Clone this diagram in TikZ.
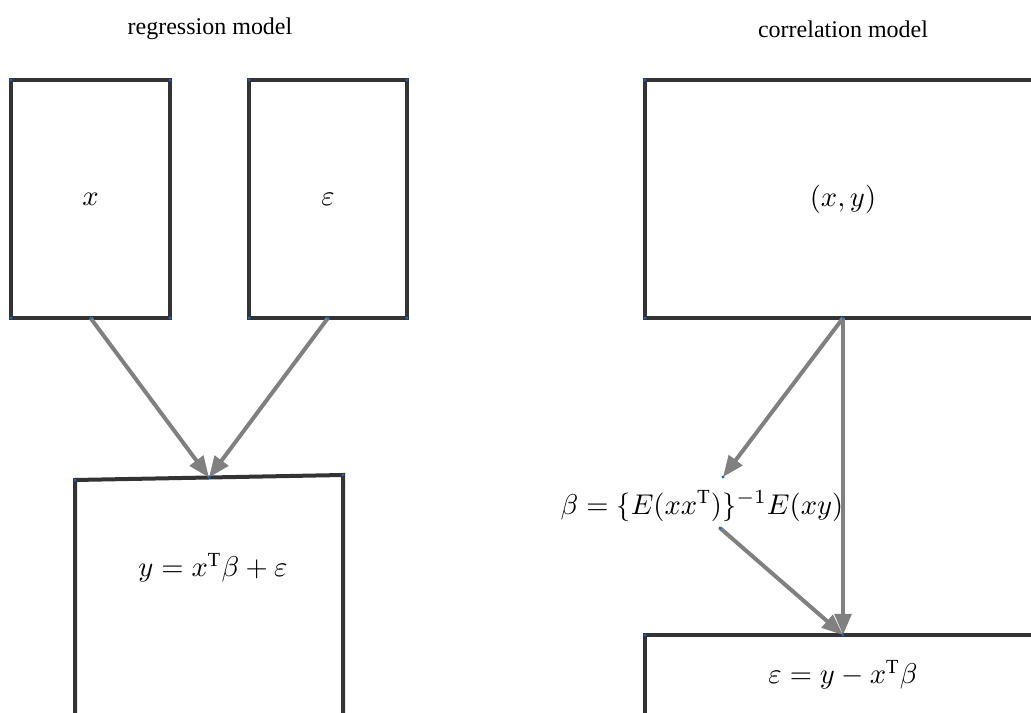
\documentclass[tikz,border=0pt]{standalone}
\usepackage{fontspec}
\setmainfont{Liberation Serif}
\usetikzlibrary{arrows.meta, positioning, calc}

\definecolor{boxgray}{HTML}{333333}
\definecolor{arrowgray}{HTML}{808080}
\definecolor{dotblue}{HTML}{1565C0}

\begin{document}
\begin{tikzpicture}[
    x=0.35pt, y=-0.35pt,
    box/.style={rectangle, draw=boxgray, line width=1.4pt, inner sep=0pt, outer sep=0pt, font=\fontsize{10}{12}\selectfont},
    title/.style={font=\fontsize{8.4}{10}\selectfont},
    arrow/.style={-{Triangle[length=7.4pt, width=5.8pt]}, draw=arrowgray, line width=1.4pt}
]
\useasboundingbox (0,0) rectangle (1031,713);
\clip (0,0) rectangle (1031,713);

% titles
\node[title] (regtitle) at (210,29) {regression model};
\node[title] (cortitle) at (843,29) {correlation model};

% regression model
\node[box, minimum width=55.65pt, minimum height=83.3pt] (xbox) at (90.5,199) {$x$};
\node[box, minimum width=55.3pt, minimum height=83.3pt] (ebox) at (328,199) {$\varepsilon$};
\coordinate (ynw) at (75,480);
\coordinate (yne) at (343,475);
\coordinate (ytop) at ($(ynw)!0.5!(yne)$);
\draw[draw=boxgray, line width=1.4pt] (75,760) -- (ynw) -- (yne) -- (343,760);
\node[font=\fontsize{10}{12}\selectfont] (ylabel) at (213,568) {$y=x^{\mathrm{T}}\beta+\varepsilon$};

\draw[arrow] (xbox.south) -- (ytop);
\draw[arrow] (ebox.south) -- (ytop);

% correlation model
\node[box, minimum width=138.6pt, minimum height=28pt] (epsbox) at (843,675) {$\varepsilon=y-x^{\mathrm{T}}\beta$};
\node[box, minimum width=138.6pt, minimum height=83.3pt] (xybox) at (843,199) {$(x,y)$};
\node[font=\fontsize{10}{12}\selectfont] (beta) at (702,506) {$\beta=\{E(xx^{\mathrm{T}})\}^{-1}E(xy)$};
\coordinate (btop) at (723,477);
\coordinate (bbot) at (720,528);

\draw[arrow] (xybox.south) -- (btop);
\draw[arrow] (xybox.south) -- (epsbox.north);
\draw[arrow] (bbot) -- (epsbox.north);

% points
\foreach \b in {xbox, ebox}
  \foreach \a in {north west, north east, south west, south east, south}
    \fill[dotblue] (\b.\a) circle (0.6pt);
\foreach \p in {ynw, yne, ytop, btop, bbot, xybox.north west, xybox.south west, xybox.south, epsbox.north west, epsbox.north}
  \fill[dotblue] (\p) circle (0.6pt);

\end{tikzpicture}
\end{document}
